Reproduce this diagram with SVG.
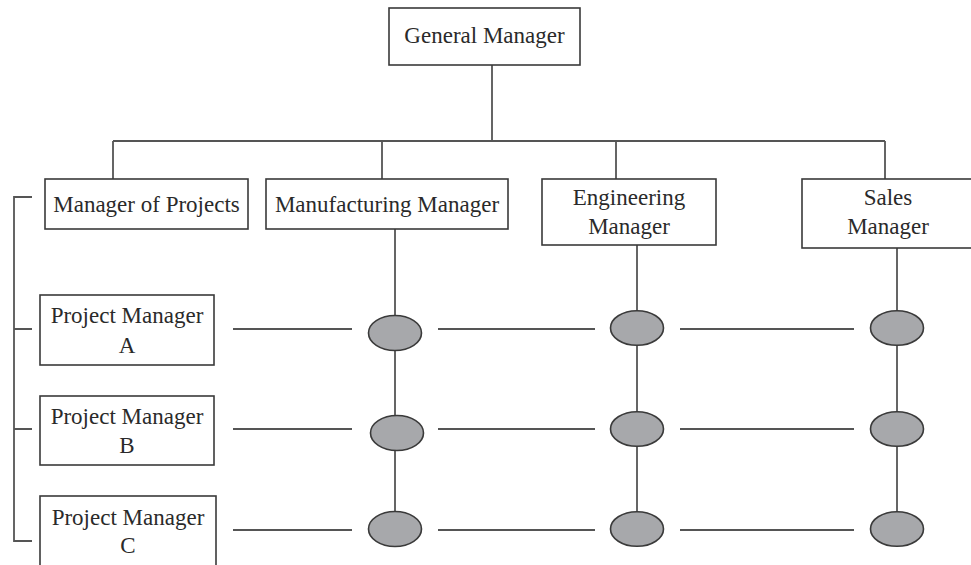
<svg xmlns="http://www.w3.org/2000/svg" width="971" height="565" viewBox="0 0 971 565">
<style>
.box{fill:#fff;stroke:#3a3a3a;stroke-width:1.6}
.ln{fill:none;stroke:#555;stroke-width:1.8}
.node{fill:#a7a8ab;stroke:#3a3a3a;stroke-width:1.6}
text{font-size:23px;fill:#2a2a2a;text-anchor:middle}
</style>
<rect width="971" height="565" fill="#fff"/>
<g id="connectors">
<path class="ln" d="M492 65V141M113 141H885M113 141V179M382 141V179M616 141V179M885 141V179"/>
<path class="ln" d="M32 197H14V541H32M14 329H32M14 429H32"/>
<path class="ln" d="M395 229V529M637 245V529M897 248V529"/>
<path class="ln" d="M233 329H352M438 329H595M680 329H854M233 429H352M438 429H595M680 429H854M233 530H352M438 530H595M680 530H854"/>
</g>
<g font-family="'Liberation Serif', 'Times New Roman', Times, serif">
<g id="general-manager"><rect class="box" x="389" y="8" width="191" height="57"/><text x="484.5" y="43">General Manager</text></g>
<g id="manager-of-projects"><rect class="box" x="45" y="179" width="203" height="50"/><text x="146.5" y="212">Manager of Projects</text></g>
<g id="manufacturing-manager"><rect class="box" x="266" y="179" width="242" height="50"/><text x="387" y="212">Manufacturing Manager</text></g>
<g id="engineering-manager"><rect class="box" x="542" y="179" width="174" height="66"/><text x="629" y="205">Engineering</text><text x="629" y="234">Manager</text></g>
<g id="sales-manager"><rect class="box" x="802" y="179" width="172" height="69"/><text x="888" y="205">Sales</text><text x="888" y="234">Manager</text></g>
<g id="project-manager-a"><rect class="box" x="40" y="295" width="174" height="70"/><text x="127" y="323">Project Manager</text><text x="127" y="353">A</text></g>
<g id="project-manager-b"><rect class="box" x="40" y="396" width="174" height="69"/><text x="127" y="424">Project Manager</text><text x="127" y="453">B</text></g>
<g id="project-manager-c"><rect class="box" x="40" y="496" width="176" height="80"/><text x="128" y="525">Project Manager</text><text x="128" y="553">C</text></g>
</g>
<g id="nodes">
<ellipse class="node" cx="395" cy="333" rx="26.5" ry="17.5"/>
<ellipse class="node" cx="397" cy="433" rx="26.5" ry="17.5"/>
<ellipse class="node" cx="395" cy="529" rx="26.5" ry="17.5"/>
<ellipse class="node" cx="637" cy="328" rx="26.5" ry="17.3"/>
<ellipse class="node" cx="637" cy="429" rx="26.5" ry="17.3"/>
<ellipse class="node" cx="637" cy="529" rx="26.5" ry="17.3"/>
<ellipse class="node" cx="897" cy="328" rx="26.5" ry="17.3"/>
<ellipse class="node" cx="897" cy="429" rx="26.5" ry="17.3"/>
<ellipse class="node" cx="897" cy="529" rx="26.5" ry="17.3"/>
</g>
</svg>
